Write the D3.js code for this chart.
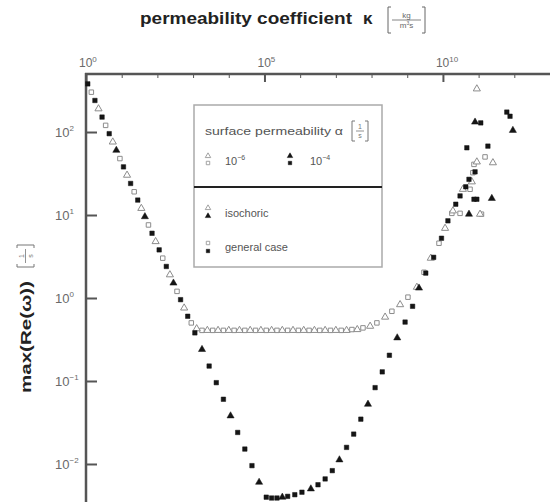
<!DOCTYPE html>
<html><head><meta charset="utf-8">
<script src="https://cdn.jsdelivr.net/npm/d3@7"></script>
<style>body{margin:0;background:#fff}svg{display:block}text{font-family:"Liberation Sans",Arial,sans-serif}</style>
</head><body><svg id="c" width="550" height="502"></svg>
<script>
// ---- data (log10 values) ----
const xTickExps = [0,1,2,3,4,5,6,7,8,9,10,11,12];
const xLabelExps = [0,5,10];
const yTickExps = [2,1,0,-1,-2];
const alphaLabels = ["\u22126","\u22124"];

// alpha = 1e-4 (black), general case (squares)
const blackSqLogK = [0.05,0.25,0.45,0.65,1.05,1.25,1.45,1.85,2.05,2.25,2.65,2.85,3.05,3.45,3.65,3.85,4.25,4.45,4.65,5.05,5.2,5.35,5.65,5.85,6.05,6.5,6.7,6.9,7.3,7.5,7.7,8.1,8.3,8.5,8.94,9.15,9.52,9.74,9.96,10.14,10.36,10.48,10.64,10.73,10.9,10.67,11.06,11.79,11.88,11.26,10.95,10.87];
const blackSqLogW = [2.58,2.38,2.18,1.98,1.58,1.38,1.18,0.78,0.58,0.38,-0.02,-0.22,-0.42,-0.82,-1.02,-1.22,-1.62,-1.82,-2.02,-2.40,-2.41,-2.41,-2.39,-2.37,-2.34,-2.25,-2.18,-2.08,-1.80,-1.64,-1.46,-1.08,-0.89,-0.69,-0.29,-0.10,0.30,0.49,0.72,0.93,1.13,1.23,1.34,1.43,1.52,1.81,2.11,2.24,2.19,1.83,1.19,1.19];
// alpha = 1e-4 (black), isochoric (triangles)
const blackTriLogK = [0.85,1.65,2.45,3.25,4.05,4.85,5.5,6.3,7.1,7.9,8.72,9.33,10.9,11.96,11.37,10.73];
const blackTriLogW = [1.78,0.98,0.18,-0.62,-1.42,-2.22,-2.40,-2.30,-1.95,-1.28,-0.48,0.12,2.12,2.02,1.20,1.01];
// alpha = 1e-6 (grey), general case (squares)
const greySqLogK = [0.15,0.55,0.95,1.35,1.75,2.15,2.55,2.95,3.25,3.55,3.85,4.15,4.45,4.75,5.05,5.35,5.65,5.95,6.25,6.55,6.85,7.15,7.45,7.76,8.15,8.57,9.02,9.47,9.89,10.25,10.84,11.18,10.87,10.76,10.48,11.08];
const greySqLogW = [2.48,2.08,1.68,1.28,0.88,0.48,0.08,-0.30,-0.39,-0.39,-0.39,-0.39,-0.39,-0.39,-0.39,-0.39,-0.39,-0.39,-0.39,-0.39,-0.39,-0.39,-0.38,-0.36,-0.30,-0.16,0.01,0.31,0.66,1.02,1.51,1.70,1.61,1.31,1.02,1.01];
// alpha = 1e-6 (grey), isochoric (triangles)
const greyTriLogK = [0.35,0.75,1.15,1.55,1.95,2.35,2.75,3.1,3.4,3.7,4.0,4.3,4.6,4.9,5.2,5.5,5.8,6.1,6.4,6.7,7.0,7.3,7.6,7.96,8.38,8.8,9.27,9.66,10.06,10.56,10.95,10.95,11.40,10.81,10.28,11.04];
const greyTriLogW = [2.28,1.88,1.48,1.08,0.68,0.28,-0.12,-0.37,-0.39,-0.39,-0.39,-0.39,-0.39,-0.39,-0.39,-0.39,-0.39,-0.39,-0.39,-0.39,-0.39,-0.39,-0.38,-0.34,-0.23,-0.08,0.13,0.48,0.84,1.31,1.64,2.52,1.63,1.40,1.05,1.01];

const svg = d3.select("#c");
const x = d3.scaleLog().domain([1, 1e13]).range([86, 550]);
const y = d3.scaleLog().domain([Math.pow(10,-2.458), Math.pow(10,2.699)]).range([502, 74]);
const axisCol = "#555", labCol = "#6a6a6a";

function sup(sel, base, exp, size, esize){
  sel.append("tspan").text(base).attr("font-size", size);
  sel.append("tspan").text(exp).attr("font-size", esize).attr("dy", -size*0.45);
}

// top axis
const xa = svg.append("g").attr("transform","translate(0,74)")
  .call(d3.axisTop(x).tickValues(xTickExps.map(e=>Math.pow(10,e))).tickSize(-4).tickFormat(""));
xa.select(".domain").remove();
xa.selectAll(".tick line").attr("stroke", axisCol)
  .attr("y2", d => xLabelExps.includes(Math.round(Math.log10(d))) ? 8 : 4)
  .attr("stroke-width", d => xLabelExps.includes(Math.round(Math.log10(d))) ? 2 : 1);
xa.selectAll(".tick text").remove();
svg.append("line").attr("x1",85).attr("x2",550).attr("y1",74).attr("y2",74).attr("stroke",axisCol).attr("stroke-width",2.5);
xLabelExps.forEach(e=>{
  const t = svg.append("text").attr("x", x(Math.pow(10,e))-7).attr("y",67).attr("fill",labCol);
  sup(t,"10",String(e),12,8);
});

// left axis
const ya = svg.append("g").attr("transform","translate(86,0)")
  .call(d3.axisLeft(y).tickValues(yTickExps.map(e=>Math.pow(10,e))).tickSize(-11).tickFormat(""));
ya.select(".domain").remove();
ya.selectAll(".tick line").attr("stroke",axisCol).attr("stroke-width",2);
ya.selectAll(".tick text").remove();
svg.append("line").attr("x1",86).attr("x2",86).attr("y1",73).attr("y2",502).attr("stroke",axisCol).attr("stroke-width",2.5);
yTickExps.forEach(e=>{
  const t = svg.append("text").attr("x",55).attr("y", y(Math.pow(10,e))+5).attr("fill",labCol);
  sup(t,"10",e<0?"\u2212"+(-e):String(e),13,8);
});

// titles
svg.append("text").attr("x",140).attr("y",24).attr("font-weight","bold").attr("font-size",17).attr("fill","#222")
  .attr("textLength",212).attr("lengthAdjust","spacingAndGlyphs")
  .text("permeability coefficient");
svg.append("text").attr("x",363).attr("y",24).attr("font-weight","bold").attr("font-size",17).attr("fill","#222").text("\u03ba");
function bracketFrac(g, x0, x1, yTop, yBot, num, fs, col){
  const c = col;
  g.append("path").attr("d",`M${x0+3},${yTop}H${x0}V${yBot}H${x0+3}`).attr("fill","none").attr("stroke",c).attr("stroke-width",1);
  g.append("path").attr("d",`M${x1-3},${yTop}H${x1}V${yBot}H${x1-3}`).attr("fill","none").attr("stroke",c).attr("stroke-width",1);
  const mid = (yTop+yBot)/2, cx = (x0+x1)/2;
  g.append("line").attr("x1",x0+4).attr("x2",x1-4).attr("y1",mid).attr("y2",mid).attr("stroke",c).attr("stroke-width",0.8);
  g.append("text").attr("x",cx).attr("y",mid-2).attr("text-anchor","middle").attr("font-size",fs).attr("fill",c).text(num);
  return g.append("text").attr("x",cx).attr("y",mid+fs).attr("text-anchor","middle").attr("font-size",fs).attr("fill",c);
}
{
  const t = bracketFrac(svg, 388, 425, 7, 33, "kg", 8, "#666");
  t.append("tspan").text("m");
  t.append("tspan").text("3").attr("font-size",5).attr("dy",-3);
  t.append("tspan").text("s").attr("dy",3);
}
// y title (rotated)
{
  const g = svg.append("g").attr("transform","translate(31,393) rotate(-90)");
  g.append("text").attr("x",0).attr("y",0).attr("font-weight","bold").attr("font-size",14.5).attr("fill","#222")
    .attr("textLength",112).attr("lengthAdjust","spacingAndGlyphs").text("max(Re(\u03c9))");
  bracketFrac(g, 126, 148, -14, 3, "1", 7, "#777").text("s");
}

// markers
const sq = d3.symbol().type(d3.symbolSquare).size(20);
const tri = d3.symbol().type(d3.symbolTriangle).size(22);
function plot(lk, lw, gen, filled){
  svg.append("g").selectAll("path").data(lk.map((k,i)=>[k,lw[i]])).join("path")
    .attr("transform", d=>`translate(${x(Math.pow(10,d[0]))},${y(Math.pow(10,d[1]))})`)
    .attr("d", gen)
    .attr("fill", filled ? "#151515" : "#fff")
    .attr("stroke", filled ? "#151515" : "#8c8c8c")
    .attr("stroke-width", filled ? 0.5 : 1);
}
plot(greySqLogK, greySqLogW, sq, false);
plot(greyTriLogK, greyTriLogW, tri, false);
plot(blackSqLogK, blackSqLogW, sq, true);
plot(blackTriLogK, blackTriLogW, tri, true);

// legend
const lg = svg.append("g");
lg.append("rect").attr("x",194).attr("y",105).attr("width",188).attr("height",162).attr("fill","#fff").attr("stroke","#aaa").attr("stroke-width",1.5);
lg.append("line").attr("x1",194).attr("x2",382).attr("y1",187).attr("y2",187).attr("stroke","#222").attr("stroke-width",2);
lg.append("text").attr("x",205).attr("y",135).attr("font-size",11).attr("fill","#555")
  .attr("textLength",138).attr("lengthAdjust","spacingAndGlyphs").text("surface permeability \u03b1");
bracketFrac(lg, 352, 368, 121, 141, "1", 7, "#777").text("s");
const lsq = d3.symbol().type(d3.symbolSquare).size(12);
const ltri = d3.symbol().type(d3.symbolTriangle).size(13);
function lsym(gen, cx, cy, filled){
  lg.append("path").attr("d",gen).attr("transform",`translate(${cx},${cy})`)
    .attr("fill", filled ? "#151515" : "#fff").attr("stroke", filled ? "#151515" : "#999").attr("stroke-width", filled?0.5:0.9);
}
lsym(ltri,208,156,false); lsym(lsq,208,163,false);
lsym(ltri,290,156,true); lsym(lsq,290,163,true);
[[225,0],[310,1]].forEach(([lx,i])=>{
  const t = lg.append("text").attr("x",lx).attr("y",165).attr("fill","#555");
  sup(t,"10",alphaLabels[i],11,7);
});
lsym(ltri,208,208,false); lsym(ltri,208,216,true);
lg.append("text").attr("x",225).attr("y",217).attr("font-size",11).attr("fill","#555").text("isochoric");
lsym(lsq,208,243,false); lsym(lsq,208,251,true);
lg.append("text").attr("x",225).attr("y",251).attr("font-size",11).attr("fill","#555").text("general case");
</script></body></html>
